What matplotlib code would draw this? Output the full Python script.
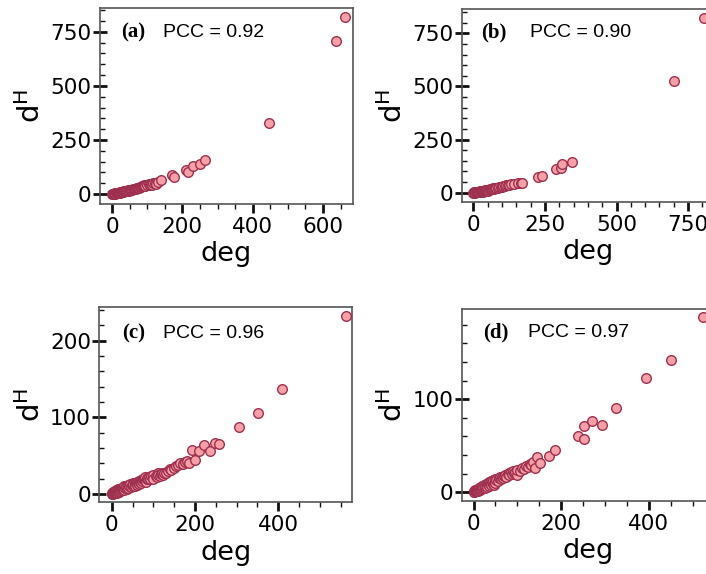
import matplotlib
matplotlib.use("Agg")
import matplotlib.pyplot as plt
from matplotlib.ticker import MultipleLocator

# ---------------- data ----------------
deg_a = [0, 2, 4, 5, 7, 8, 10, 10, 12, 14, 15, 16, 18, 20, 20, 22, 24, 25, 27, 28, 30, 32, 34, 35, 38,
         40, 42, 45, 48, 50, 52, 55, 58, 60, 62, 65, 68, 70, 72, 75, 78, 80, 82, 85, 88, 90, 92, 95,
         100, 105, 108, 112, 115, 118, 122, 125, 130, 140, 170, 175, 210, 216, 229, 250, 264, 445, 637, 662]
dh_a = [0, 1, 1, 2, 2, 3, 3, 1, 4, 4, 5, 3, 6, 5, 7, 8, 7, 9, 10, 8, 11, 10, 12, 14, 13,
        15, 14, 17, 16, 19, 18, 21, 20, 22, 24, 25, 23, 28, 27, 30, 29, 33, 31, 35, 38, 40, 36, 38,
        42, 45, 40, 48, 44, 52, 50, 48, 55, 65, 86, 80, 112, 104, 130, 138, 157, 328, 708, 818]

deg_b = [0, 2, 4, 5, 6, 8, 10, 12, 14, 15, 18, 20, 22, 25, 28, 30, 32, 35, 38, 40, 42, 45, 48, 50,
         55, 58, 60, 65, 70, 72, 75, 80, 85, 90, 95, 100, 105, 110, 115, 120, 125, 130, 140, 155,
         165, 170, 226, 240, 288, 305, 310, 345, 700, 805]
dh_b = [0, 1, 1, 2, 0, 2, 3, 2, 4, 1, 5, 4, 6, 6, 7, 8, 5, 9, 10, 8, 11, 12, 13, 10,
        14, 16, 15, 17, 20, 18, 22, 24, 21, 25, 26, 28, 30, 32, 34, 38, 36, 40, 42, 45,
        47, 46, 75, 80, 110, 115, 136, 143, 527, 822]

deg_c = [0, 1, 2, 3, 4, 5, 6, 8, 8, 10, 10, 12, 13, 14, 15, 16, 18, 18, 20, 20, 22, 24, 25, 26, 28,
         30, 30, 32, 34, 35, 36, 38, 40, 40, 42, 44, 45, 48, 50, 50, 52, 55, 55, 58, 60, 60, 62, 65,
         65, 68, 70, 70, 72, 75, 76, 78, 80, 80, 82, 84, 85, 88, 90, 92, 95, 98, 100, 100, 105, 108,
         110, 112, 115, 118, 120, 122, 125, 130, 135, 140, 143, 150, 155, 160, 165, 170, 175, 180,
         185, 193, 200, 209, 221, 236, 247, 257, 305, 352, 408, 562]
dh_c = [0, 1, 0, 2, 1, 2, 3, 2, 4, 3, 5, 4, 1, 6, 3, 5, 6, 2, 7, 4, 5, 8, 6, 9, 7,
        10, 5, 8, 11, 9, 6, 10, 12, 8, 11, 13, 9, 12, 14, 10, 13, 15, 11, 14, 16, 12, 15, 17,
        13, 16, 18, 14, 17, 19, 20, 20, 18, 22, 16, 20, 21, 19, 22, 20, 23, 21, 25, 20, 24, 22,
        27, 25, 23, 26, 28, 25, 27, 28, 30, 32, 31, 34, 36, 38, 41, 39, 42, 43,
        41, 57, 45, 56, 64, 56, 66, 65, 88, 106, 137, 232]

deg_d = [0, 1, 2, 3, 4, 5, 6, 8, 8, 10, 10, 11, 12, 12, 14, 15, 16, 18, 18, 20, 20, 22, 24, 25, 26,
         28, 30, 30, 32, 34, 35, 36, 38, 40, 40, 42, 44, 45, 46, 48, 50, 50, 52, 55, 58, 60, 62, 65,
         68, 70, 72, 75, 78, 80, 82, 85, 88, 90, 92, 95, 98, 100, 105, 110, 115, 120, 125, 128,
         132, 135, 140, 144, 152, 171, 185, 238, 251, 251, 271, 293, 324, 393, 450, 523]
dh_d = [0, 1, 0, 1, 2, 1, 2, 3, 1, 3, 4, 1, 2, 5, 4, 3, 5, 6, 4, 5, 7, 6, 8, 5, 7,
        9, 8, 6, 10, 9, 7, 11, 10, 12, 8, 11, 9, 13, 8, 12, 14, 10, 13, 12, 15, 16, 14, 17,
        15, 18, 19, 17, 20, 21, 19, 22, 20, 23, 21, 22, 19, 24, 23, 26, 25, 28, 27, 30,
        29, 33, 26, 38, 31, 39, 46, 61, 71, 57, 77, 72, 91, 123, 142, 188]

panels = ["(a)", "(b)", "(c)", "(d)"]
pcc_values = ["0.92", "0.90", "0.96", "0.97"]

# ---------------- layout ----------------
W, H = 706, 574
fig = plt.figure(figsize=(W / 100, H / 100), dpi=100)

rects = [
    (100 / W, 1 - 204 / H, 253 / W, 196 / H),
    (461.7 / W, 1 - 202 / H, 253 / W, 193 / H),
    (99.3 / W, 1 - 502.3 / H, 252.7 / W, 195 / H),
    (461.7 / W, 1 - 500.7 / H, 253 / W, 191.7 / H),
]
xlims = [(-34, 685), (-41, 843), (-30, 577), (-27, 550)]
ylims = [(-46, 860), (-44, 865), (-10.8, 243.5), (-9, 197)]
xmaj = [200, 250, 200, 200]
xmin = [50, 50, 50, 50]
ymaj = [250, 250, 100, 100]
ymin = [50, 50, 20, 20]
label_x = [0.084, 0.077, 0.091, 0.083]
pcc_x = [0.25, 0.27, 0.253, 0.263]
text_y = [0.877, 0.876, 0.867, 0.876]

data = [(deg_a, dh_a), (deg_b, dh_b), (deg_c, dh_c), (deg_d, dh_d)]

face = "#f7a1a6"
edge = "#9e2f4f"

for i in range(4):
    ax = fig.add_axes(rects[i])
    x, y = data[i]
    ax.scatter(x, y, s=48, facecolor=face, edgecolor=edge, linewidth=1.0, zorder=3,
               clip_on=False if i in (1, 3) else True)
    ax.set_xlim(*xlims[i])
    ax.set_ylim(*ylims[i])
    ax.xaxis.set_major_locator(MultipleLocator(xmaj[i]))
    ax.xaxis.set_minor_locator(MultipleLocator(xmin[i]))
    ax.yaxis.set_major_locator(MultipleLocator(ymaj[i]))
    ax.yaxis.set_minor_locator(MultipleLocator(ymin[i]))
    ax.tick_params(axis="x", which="major", direction="out", length=6.5, width=2.0, labelsize=15.5, pad=3, color="#111111")
    ax.tick_params(axis="x", which="minor", direction="out", length=3.5, width=1.0, color="#111111")
    ax.tick_params(axis="y", which="major", direction="inout", length=10, width=2.0, labelsize=15.5, pad=1, color="#111111")
    ax.tick_params(axis="y", which="minor", direction="in", length=3.5, width=1.0, color="#111111")
    for sp in ax.spines.values():
        sp.set_color("#555555")
        sp.set_linewidth(1.2)
    ax.set_xlabel("deg", fontsize=19.5, labelpad=3)
    ax.set_ylabel(r"d$^\mathregular{H}$", fontsize=21, labelpad=3)
    ax.text(label_x[i], text_y[i], panels[i], transform=ax.transAxes, fontsize=15,
            fontweight="bold", family="Liberation Serif", va="center", ha="left")
    ax.text(pcc_x[i], text_y[i], "PCC = " + pcc_values[i], transform=ax.transAxes, fontsize=14,
            family="Liberation Sans", va="center", ha="left")

fig.savefig("out.png", dpi=100)
